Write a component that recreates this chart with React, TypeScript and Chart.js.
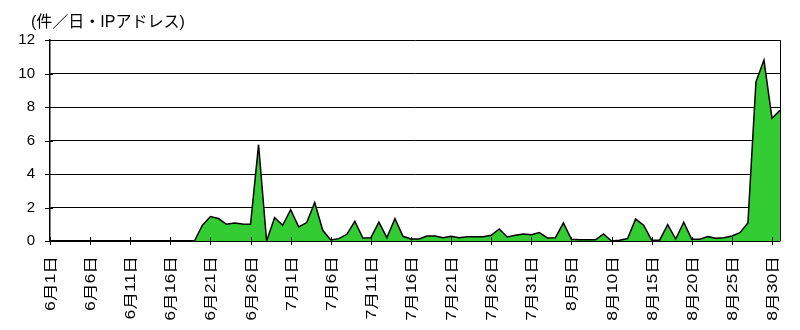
import React, { useEffect, useRef } from "react";
import { Chart, registerables } from "chart.js";

Chart.register(...registerables);

const months = [6, 7, 8];
const monthDays = [30, 31, 31];

const dayLabels: string[] = [];
months.forEach((m, mi) => {
  for (let d = 1; d <= monthDays[mi]; d++) dayLabels.push(`${m}月${d}日`);
});

const counts = [
  0, 0, 0, 0, 0, 0, 0, 0, 0, 0, 0, 0, 0, 0, 0, 0, 0, 0, 0,
  0.94, 1.46, 1.34, 1.0, 1.08, 1.02, 1.0, 5.75, 0.0, 1.4, 0.94,
  1.87, 0.84, 1.1, 2.3, 0.64, 0.06, 0.14, 0.4, 1.18, 0.18,
  0.2, 1.13, 0.2, 1.34, 0.28, 0.12, 0.12, 0.3, 0.3, 0.2,
  0.28, 0.2, 0.26, 0.26, 0.26, 0.34, 0.72, 0.24, 0.34, 0.42,
  0.38, 0.5, 0.18, 0.2, 1.08, 0.1, 0.07, 0.07, 0.07, 0.42,
  0.0, 0.05, 0.15, 1.31, 0.94, 0.05, 0.05, 0.98, 0.12, 1.12,
  0.1, 0.1, 0.26, 0.16, 0.2, 0.3, 0.5, 1.08, 9.5, 10.8,
  7.33, 7.8,
];

const yTicks = [0, 2, 4, 6, 8, 10, 12];
const yTitle = "(件／日・IPアドレス)";
const labelEvery = 5;

const FONT = "'Liberation Sans', 'Noto Sans CJK JP', sans-serif";

const decorPlugin = {
  id: "decor",
  afterDraw(chart: any) {
    const ctx = chart.ctx;
    const area = chart.chartArea;
    const xs = chart.scales.x;
    const ys = chart.scales.y;
    ctx.save();
    ctx.strokeStyle = "#000";
    ctx.lineWidth = 1;
    // right border
    ctx.beginPath();
    ctx.moveTo(Math.round(area.right) + 0.5, area.top);
    ctx.lineTo(Math.round(area.right) + 0.5, area.bottom);
    ctx.stroke();
    // y tick marks crossing axis
    yTicks.forEach((v) => {
      const y = Math.round(ys.getPixelForValue(v)) + 0.5;
      ctx.beginPath();
      ctx.moveTo(area.left - 5, y);
      ctx.lineTo(area.left + 3, y);
      ctx.stroke();
    });
    // x tick marks + labels
    ctx.fillStyle = "#000";
    ctx.font = `14px ${FONT}`;
    ctx.textAlign = "right";
    ctx.textBaseline = "middle";
    dayLabels.forEach((lab, i) => {
      if (i % labelEvery !== 0) return;
      const x = Math.round(xs.getPixelForValue(i)) + 0.5;
      ctx.beginPath();
      ctx.moveTo(x, area.bottom - 4);
      ctx.lineTo(x, area.bottom + 4);
      ctx.stroke();
      ctx.save();
      ctx.translate(x + 0.5, area.bottom + 15);
      ctx.rotate(-Math.PI / 2);
      ctx.scale(1.26, 1);
      ctx.fillText(lab, 0, 0);
      ctx.restore();
    });
    // y title
    ctx.font = `16px ${FONT}`;
    ctx.textAlign = "left";
    ctx.textBaseline = "middle";
    ctx.fillText(yTitle, 31, 23);
    ctx.restore();
  },
};

export default function App() {
  const ref = useRef<HTMLCanvasElement | null>(null);
  useEffect(() => {
    if (!ref.current) return;
    const chart = new Chart(ref.current, {
      type: "line",
      data: {
        labels: dayLabels,
        datasets: [
          {
            data: counts,
            fill: "origin",
            backgroundColor: "#33cc33",
            borderColor: "#000",
            borderWidth: 1.5,
            pointRadius: 0,
            tension: 0,
          },
        ],
      },
      options: {
        animation: false,
        responsive: false,
        devicePixelRatio: 1,
        layout: { padding: { left: 0, right: 20, top: 40, bottom: 89 } },
        plugins: { legend: { display: false }, tooltip: { enabled: false } },
        scales: {
          x: {
            offset: false,
            grid: { display: false, drawTicks: false },
            border: { display: true, color: "#000", width: 1.5 },
            ticks: { display: false },
          },
          y: {
            min: 0,
            max: 12,
            afterFit: (s: any) => {
              s.width = 50;
            },
            afterBuildTicks: (s: any) => {
              s.ticks = yTicks.map((v) => ({ value: v }));
            },
            grid: { color: "#000", lineWidth: 1, drawTicks: false },
            border: { display: true, color: "#000", width: 1.5 },
            ticks: {
              padding: 15,
              color: "#000",
              font: { family: FONT, size: 15 },
            },
          },
        },
      },
      plugins: [decorPlugin],
    });
    return () => chart.destroy();
  }, []);
  return (
    <canvas
      ref={ref}
      width={800}
      height={330}
      style={{ position: "absolute", left: 0, top: 0, width: 800, height: 330 }}
    />
  );
}
